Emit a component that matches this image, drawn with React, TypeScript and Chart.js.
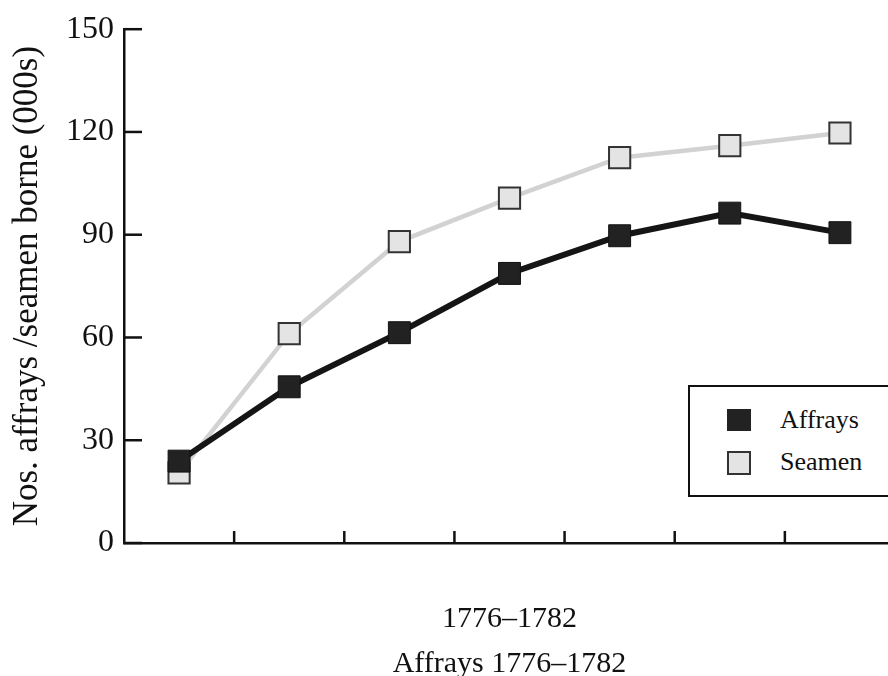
import React, { useEffect, useRef } from "react";
import { Chart, registerables } from "chart.js";

Chart.register(...registerables);

const categories = ["1776", "1777", "1778", "1779", "1780", "1781", "1782"];
const affrays = [23.9, 45.6, 61.4, 78.7, 89.7, 96.3, 90.6];
const seamen = [20.5, 61.1, 88.0, 100.7, 112.5, 116.0, 119.7];
const yTickValues = [0, 30, 60, 90, 120, 150];
const xTitle = ["1776–1782", "Affrays 1776–1782"];
const yTitle = "Nos. affrays /seamen borne (000s)";
const seriesNames = ["Affrays", "Seamen"];

const FONT = "'Liberation Serif', 'Times New Roman', serif";

const innerTicks = {
  id: "innerTicks",
  afterDraw(chart: any) {
    const { ctx, chartArea, scales } = chart;
    const y = scales.y;
    const x = scales.x;
    ctx.save();
    ctx.strokeStyle = "#111";
    ctx.lineWidth = 2.5;
    y.ticks.forEach((_: any, i: number) => {
      const py = y.getPixelForTick(i);
      ctx.beginPath();
      ctx.moveTo(chartArea.left, py);
      ctx.lineTo(chartArea.left + 18, py);
      ctx.stroke();
    });
    for (let i = 1; i < categories.length; i++) {
      const px = (x.getPixelForValue(i - 1) + x.getPixelForValue(i)) / 2;
      ctx.beginPath();
      ctx.moveTo(px, chartArea.bottom);
      ctx.lineTo(px, chartArea.bottom - 12);
      ctx.stroke();
    }
    ctx.restore();
  },
};

export default function App() {
  const ref = useRef<HTMLCanvasElement | null>(null);

  useEffect(() => {
    if (!ref.current) return;
    const chart = new Chart(ref.current, {
      type: "line",
      data: {
        labels: categories,
        datasets: [
          {
            label: seriesNames[0],
            data: affrays,
            borderColor: "#151515",
            borderWidth: 6,
            pointStyle: "rect",
            pointRadius: 15.5,
            pointBackgroundColor: "#222",
            pointBorderColor: "#111",
            pointBorderWidth: 1,
            tension: 0,
          },
          {
            label: seriesNames[1],
            data: seamen,
            borderColor: "#d2d2d2",
            borderWidth: 4.5,
            pointStyle: "rect",
            pointRadius: 15,
            pointBackgroundColor: "#e4e4e4",
            pointBorderColor: "#333",
            pointBorderWidth: 2,
            tension: 0,
          },
        ],
      },
      options: {
        animation: false,
        responsive: false,
        events: [],
        layout: { padding: { top: 23, right: 2, left: 0, bottom: 0 } },
        plugins: { legend: { display: false }, tooltip: { enabled: false } },
        scales: {
          x: {
            type: "category",
            offset: true,
            grid: { display: false },
            border: { display: true, color: "#111", width: 2.5 },
            ticks: { display: false },
            title: {
              display: true,
              text: xTitle,
              color: "#111",
              font: { family: FONT, size: 30, lineHeight: 1.5 },
              padding: { top: 0, bottom: 3 },
            },
            afterFit: (s: any) => {
              s.height = 147;
            },
          },
          y: {
            min: 0,
            max: 150,
            afterBuildTicks: (s: any) => {
              s.ticks = yTickValues.map((v) => ({ value: v }));
            },
            grid: { display: false, drawTicks: false },
            border: { display: true, color: "#111", width: 2.5 },
            ticks: {
              color: "#111",
              padding: 10,
              font: { family: FONT, size: 32 },
            },
            title: {
              display: true,
              text: yTitle,
              color: "#111",
              font: { family: FONT, size: 35, lineHeight: 1.2 },
              padding: { top: 7, bottom: 0 },
            },
            afterFit: (s: any) => {
              s.width = 124;
            },
          },
        },
      },
      plugins: [innerTicks],
    });
    return () => chart.destroy();
  }, []);

  return (
    <div
      style={{
        position: "fixed",
        left: 0,
        top: 0,
        width: 888,
        height: 676,
        overflow: "hidden",
        background: "#fff",
        fontFamily: FONT,
      }}
    >
      <canvas ref={ref} width={912} height={690} style={{ width: 912, height: 690, display: "block" }} />
      <div
        style={{
          position: "absolute",
          left: 688,
          top: 385,
          width: 240,
          height: 108,
          border: "2px solid #111",
          background: "#fff",
        }}
      >
        <div style={{ position: "absolute", left: 37, top: 22, width: 24, height: 22, background: "#222" }} />
        <div
          style={{
            position: "absolute",
            left: 37,
            top: 64,
            width: 20,
            height: 20,
            background: "#e4e4e4",
            border: "2px solid #333",
          }}
        />
        <div style={{ position: "absolute", left: 90, top: 18, fontSize: 26, lineHeight: "30px", color: "#111" }}>
          {seriesNames[0]}
        </div>
        <div style={{ position: "absolute", left: 90, top: 60, fontSize: 26, lineHeight: "30px", color: "#111" }}>
          {seriesNames[1]}
        </div>
      </div>
    </div>
  );
}
